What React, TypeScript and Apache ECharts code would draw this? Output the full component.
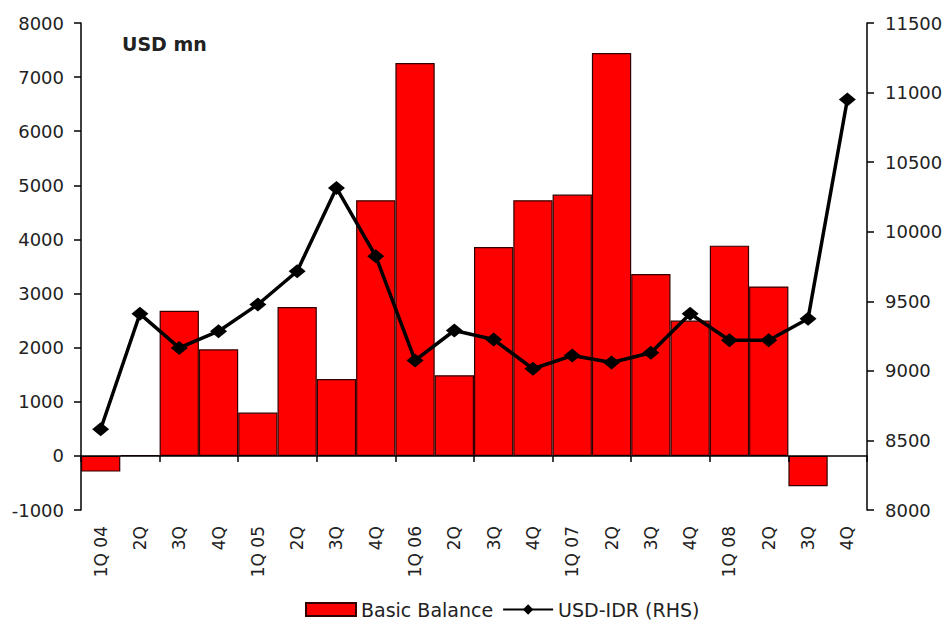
import React, { useEffect, useRef } from "react";
import * as echarts from "echarts";

const categories = ["1Q 04", "2Q", "3Q", "4Q", "1Q 05", "2Q", "3Q", "4Q", "1Q 06", "2Q", "3Q", "4Q", "1Q 07", "2Q", "3Q", "4Q", "1Q 08", "2Q", "3Q", "4Q"];
const basicBalance: (number | null)[] = [-290, 15, 2680, 1970, 800, 2750, 1420, 4725, 7260, 1490, 3860, 4725, 4830, 7445, 3360, 2500, 3885, 3130, -560, null];
const usdIdr = [8580, 9410, 9165, 9285, 9477, 9716, 10315, 9824, 9075, 9290, 9225, 9015, 9110, 9060, 9130, 9410, 9220, 9220, 9375, 10950];

const FONT = "DejaVu Sans";
const TXT = "#222";
const plain = (v: number) => String(v);

export default function App() {
  const ref = useRef<HTMLDivElement>(null);
  useEffect(() => {
    if (!ref.current) return;
    const chart = echarts.init(ref.current, null, { renderer: "svg" });
    chart.setOption({
      animation: false,
      backgroundColor: "#fff",
      textStyle: { fontFamily: FONT },
      grid: { left: 81, right: 83, top: 23, bottom: 111 },
      graphic: [
        {
          type: "text",
          left: 122,
          top: 34,
          style: { text: "USD mn", font: `bold 19px ${FONT}`, fill: TXT },
        },
      ],
      legend: {
        left: 300,
        top: 595,
        itemGap: 9,
        itemWidth: 50,
        itemHeight: 13,
        textStyle: { fontSize: 19, color: TXT, fontFamily: FONT },
        data: [
          { name: "Basic Balance", icon: "rect" },
          { name: "USD-IDR (RHS)" },
        ],
      },
      xAxis: [
        {
          type: "category",
          data: categories,
          boundaryGap: true,
          axisLine: { onZero: true, onZeroAxisIndex: 0, lineStyle: { color: "#000", width: 1.5 } },
          axisTick: { show: true, length: 6, inside: false, lineStyle: { color: "#000", width: 1.5 } },
          axisLabel: { show: false },
          z: 5,
        },
        {
          type: "category",
          data: categories,
          position: "bottom",
          axisLine: { show: false, onZero: false },
          axisTick: { show: false },
          axisLabel: { rotate: 90, margin: 16, fontSize: 17, color: TXT, fontFamily: FONT, interval: 0 },
        },
      ],
      yAxis: [
        {
          type: "value",
          min: -1000,
          max: 8000,
          interval: 1000,
          splitLine: { show: false },
          axisLine: { show: true, lineStyle: { color: "#000", width: 1.5 } },
          axisTick: { show: true, length: 7, lineStyle: { color: "#000", width: 1.5 } },
          axisLabel: { margin: 17, fontSize: 18, color: TXT, fontFamily: FONT, formatter: plain },
        },
        {
          type: "value",
          min: 8000,
          max: 11500,
          interval: 500,
          position: "right",
          splitLine: { show: false },
          axisLine: { show: true, lineStyle: { color: "#000", width: 1.5 } },
          axisTick: { show: true, length: 7, lineStyle: { color: "#000", width: 1.5 } },
          axisLabel: { margin: 18, fontSize: 18, color: TXT, fontFamily: FONT, formatter: plain },
        },
      ],
      series: [
        {
          name: "Basic Balance",
          type: "bar",
          xAxisIndex: 0,
          yAxisIndex: 0,
          data: basicBalance,
          barCategoryGap: "0%",
          itemStyle: { color: "#ff0000", borderColor: "#330000", borderWidth: 1.2 },
        },
        {
          name: "USD-IDR (RHS)",
          type: "line",
          xAxisIndex: 0,
          yAxisIndex: 1,
          data: usdIdr,
          symbol: "diamond",
          symbolSize: [17, 14],
          lineStyle: { color: "#000", width: 3.5 },
          itemStyle: { color: "#000" },
          z: 10,
        },
      ],
    });
    return () => chart.dispose();
  }, []);
  return <div ref={ref} style={{ position: "fixed", left: 0, top: 0, width: 950, height: 621 }} />;
}
